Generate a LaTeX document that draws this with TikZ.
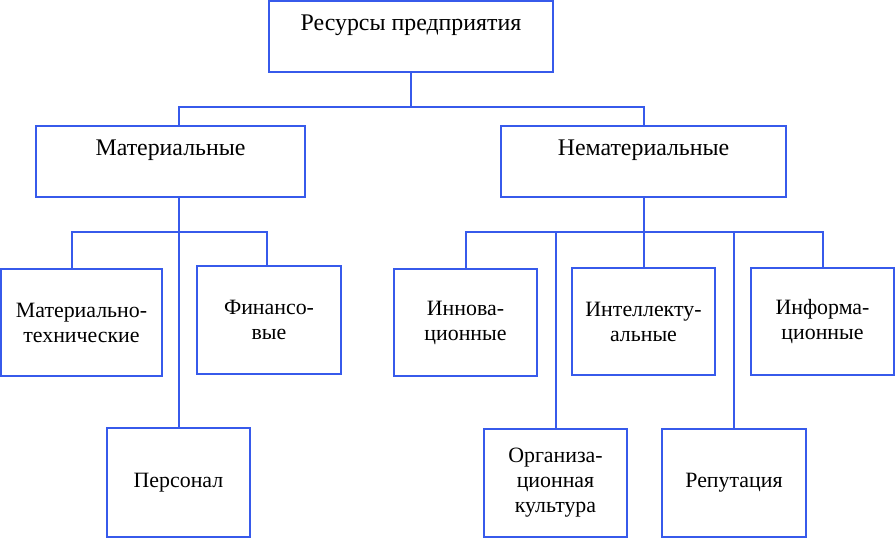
\documentclass[tikz,border=0pt]{standalone}
\usepackage{fontspec}
\setmainfont{Liberation Serif}
\newfontfamily\boxfont{Liberation Serif}
\definecolor{boxblue}{RGB}{55,90,235}
\tikzset{every picture/.style={line width=1.5pt}}

\begin{document}
\begin{tikzpicture}[x=0.75pt,y=0.75pt,yscale=-1,xscale=1,
    resbox/.style 2 args={draw=boxblue, minimum width=#1*0.75pt, minimum height=#2*0.75pt, inner sep=0.75pt, outer sep=0pt, align=center},
    topfont/.style={font=\boxfont\fontsize{17.9}{20}\selectfont},
    subfont/.style={font=\boxfont\fontsize{16.4}{18.75}\selectfont},
    link/.style={draw=boxblue}]
        \useasboundingbox (0,0) rectangle (895,538);

        %Top level
        \node [resbox={284}{71}, topfont] (root) at (411,36.5) {Ресурсы предприятия\\ \mbox{}};
        \node [resbox={269}{71}, topfont] (mat) at (170.5,161.5) {Материальные\\ \mbox{}};
        \node [resbox={285}{71}, topfont] (nemat) at (643.5,161.5) {Нематериальные\\ \mbox{}};

        %Material branch
        \node [resbox={161}{107}, subfont] (mt) at (81.5,322.5) {Материально-\\технические};
        \node [resbox={144}{108}, subfont] (fin) at (269,320) {Финансо-\\вые};
        \node [resbox={143}{109}, subfont] (pers) at (178.5,482.5) {Персонал};

        %Non-material branch
        \node [resbox={143}{107}, subfont] (innov) at (465.5,322.5) {Иннова-\\ционные};
        \node [resbox={143}{107}, subfont] (intel) at (643.5,321.5) {Интеллекту-\\альные};
        \node [resbox={143}{107}, subfont] (inform) at (822.5,321.5) {Информа-\\ционные};
        \node [resbox={143}{108}, subfont] (org) at (555.5,483) {Организа-\\ционная\\культура};
        \node [resbox={144}{108}, subfont] (rep) at (734,483) {Репутация};

        %Junctions
        \coordinate (j1) at (411,107);
        \coordinate (j2) at (179,232);
        \coordinate (j3) at (643.5,232);

        %Connectors
        \draw [link] (root.south) -- (j1);
        \draw [link] ([xshift=6.4pt]mat.north) |- (j1) -| (nemat.north);
        \draw [link] (pers.north |- mat.south) -- (pers.north);
        \draw [link] ([xshift=-7.1pt]mt.north) |- (j2) -| ([xshift=-1.5pt]fin.north);
        \draw [link] (nemat.south) -- (intel.north);
        \draw [link] (innov.north) |- (j3) -| (inform.north);
        \draw [link] (org.north) -- (org.north |- j3);
        \draw [link] (rep.north) -- (rep.north |- j3);

    \end{tikzpicture}
\end{document}
